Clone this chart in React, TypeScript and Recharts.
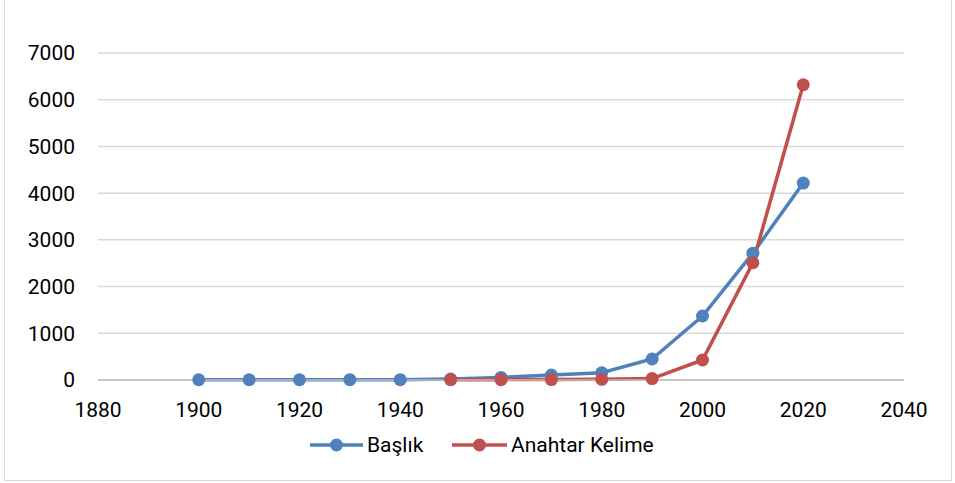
import { LineChart, Line, XAxis, YAxis, CartesianGrid } from 'recharts'

const years = [1900, 1910, 1920, 1930, 1940, 1950, 1960, 1970, 1980, 1990, 2000, 2010, 2020]
const baslik = [5, 5, 5, 8, 8, 20, 55, 105, 155, 450, 1370, 2715, 4215]
const anahtarKelime = [null, null, null, null, null, 5, 8, 10, 15, 30, 428, 2510, 6320]
const xTicks = [1880, 1900, 1920, 1940, 1960, 1980, 2000, 2020, 2040]
const yTicks = [0, 1000, 2000, 3000, 4000, 5000, 6000, 7000]

const BLUE = '#4F81BD'
const RED = '#C0504D'
const font = 'Roboto, sans-serif'

const data = years.map((year, i) => ({
  year,
  baslik: baslik[i],
  anahtar: anahtarKelime[i],
}))

function LegendItem({ color, label, x, width }: { color: string; label: string; x: number; width: number }) {
  return (
    <div style={{ position: 'absolute', left: x, top: 432, display: 'flex', alignItems: 'center' }}>
      <svg width={width} height={26}>
        <line x1={0} y1={13} x2={width} y2={13} stroke={color} strokeWidth={3.5} />
        <circle cx={width / 2} cy={13} r={6.5} fill={color} />
      </svg>
      <span style={{ marginLeft: 4, fontFamily: font, fontSize: 21, color: '#000', lineHeight: '26px' }}>{label}</span>
    </div>
  )
}

export default function App() {
  return (
    <div style={{ position: 'fixed', left: 0, top: 0, width: 955, height: 483, background: '#fff' }}>
      <div style={{ position: 'absolute', left: 4, top: -1, width: 948, height: 482, border: '1px solid #D9D9D9', boxSizing: 'border-box' }} />
      <LineChart width={955} height={483} data={data} margin={{ top: 53, right: 51, bottom: 73, left: 28 }}>
        <CartesianGrid vertical={false} stroke="#D9D9D9" strokeWidth={1.5} />
        <XAxis
          dataKey="year"
          type="number"
          domain={[1880, 2040]}
          ticks={xTicks}
          interval={0}
          tickLine={false}
          axisLine={{ stroke: '#BFBFBF', strokeWidth: 1.5 }}
          tickMargin={16}
          tick={{ fontFamily: font, fontSize: 21, fill: '#000' }}
        />
        <YAxis
          domain={[0, 7000]}
          ticks={yTicks}
          width={70}
          axisLine={false}
          tickLine={false}
          tickMargin={17}
          tick={{ fontFamily: font, fontSize: 21, fill: '#000' }}
        />
        <Line
          dataKey="baslik"
          stroke={BLUE}
          strokeWidth={3.5}
          dot={{ r: 6.5, fill: BLUE, stroke: BLUE, strokeWidth: 0 }}
          isAnimationActive={false}
        />
        <Line
          dataKey="anahtar"
          stroke={RED}
          strokeWidth={3.5}
          dot={{ r: 6.5, fill: RED, stroke: RED, strokeWidth: 0 }}
          isAnimationActive={false}
        />
      </LineChart>
      <LegendItem color={BLUE} label="Başlık" x={310} width={53} />
      <LegendItem color={RED} label="Anahtar Kelime" x={452} width={55} />
    </div>
  )
}
